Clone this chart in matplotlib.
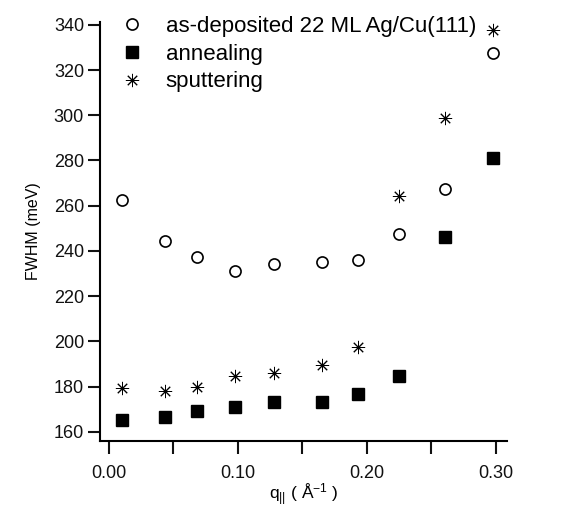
import numpy as np
import matplotlib
matplotlib.use("Agg")
import matplotlib.pyplot as plt

plt.rcParams["font.family"] = ["Liberation Sans", "DejaVu Sans"]
plt.rcParams["mathtext.fontset"] = "custom"
plt.rcParams["mathtext.rm"] = "Liberation Sans"
plt.rcParams["mathtext.it"] = "Liberation Sans"

# data
q = [0.010, 0.0435, 0.068, 0.098, 0.128, 0.165, 0.193, 0.225, 0.261, 0.298]
fwhm_dep = [262.5, 244.5, 237.5, 231, 234, 235, 236, 247.5, 267.5, 327.5]
fwhm_ann = [165, 166.5, 169, 171, 173, 173, 176.5, 184.5, 246, 281]
fwhm_spu = [179.5, 178, 180, 184.5, 186, 189.5, 197.5, 264.5, 299, 337.5]
labels = ["as-deposited 22 ML Ag/Cu(111)", "annealing", "sputtering"]

fig = plt.figure(figsize=(5.75, 5.09), dpi=100)
ax = fig.add_axes([0.174, 0.134, 0.708, 0.823])

ax.plot(q, fwhm_dep, ls="none", marker="o", ms=8, mfc="white", mec="black", mew=1.2, label=labels[0])
ax.plot(q, fwhm_ann, ls="none", marker="s", ms=8, mfc="black", mec="black", label=labels[1])
ax.plot(q, fwhm_spu, ls="none", marker=(8, 2, 0), ms=9.5, mfc="black", mec="black", mew=0.7, label=labels[2])

ax.set_xlim(-0.007, 0.309)
ax.set_ylim(156, 341.3)
ax.set_xticks([0.0, 0.1, 0.2, 0.3])
ax.set_xticklabels(["0.00", "0.10", "0.20", "0.30"])
ax.set_xticks([0.05, 0.15, 0.25], minor=True)
ax.set_yticks(np.arange(160, 341, 20))

for s in ["top", "right"]:
    ax.spines[s].set_visible(False)
for s in ["left", "bottom"]:
    ax.spines[s].set_linewidth(1.5)
ax.tick_params(axis="both", which="both", direction="out", width=1.5, labelsize=13, colors="#111")
ax.tick_params(axis="y", length=8.5, pad=3)
ax.tick_params(axis="x", which="both", length=9.5, pad=8)

ax.set_ylabel("FWHM (meV)", fontsize=11.5, labelpad=9)
ax.set_xlabel(r"q$_{||}$ ( Å$^{-1}$ )", fontsize=12.5)
ax.xaxis.set_label_coords(0.5, -0.097)

ax.legend(loc="upper left", bbox_to_anchor=(0.03, 1.035), frameon=False, fontsize=16,
          handletextpad=1.0, labelspacing=0.3, borderaxespad=0, handlelength=1.0)

fig.savefig("out.png", dpi=100)
